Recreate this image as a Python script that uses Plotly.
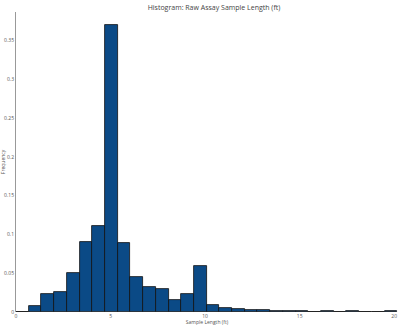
import plotly.graph_objects as go

bin_edges = [0.0, 0.672, 1.344, 2.016, 2.688, 3.36, 4.032, 4.704, 5.376, 6.048,
             6.72, 7.392, 8.064, 8.736, 9.408, 10.08, 10.752, 11.424, 12.096, 12.768,
             13.44, 14.112, 14.784, 15.456, 16.128, 16.8, 17.472, 18.144, 18.816, 19.488, 20.16]
frequency = [0.0, 0.0071, 0.0234, 0.0264, 0.0505, 0.0904, 0.111, 0.370, 0.0891, 0.0457,
             0.0324, 0.0294, 0.0161, 0.0229, 0.0599, 0.0084, 0.0058, 0.0045, 0.0028, 0.0022,
             0.0018, 0.0012, 0.0010, 0.0006, 0.0008, 0.0005, 0.0009, 0.0006, 0.0004, 0.0010]
x_ticks = [0, 5, 10, 15, 20]
y_ticks = [0, 0.05, 0.1, 0.15, 0.2, 0.25, 0.3, 0.35]
y_tick_labels = ["0", "0.05", "0.1", "0.15", "0.2", "0.25", "0.3", "0.35"]

centers = [(bin_edges[i] + bin_edges[i + 1]) / 2 for i in range(len(frequency))]
widths = [bin_edges[i + 1] - bin_edges[i] for i in range(len(frequency))]

font = "Open Sans, Segoe UI, sans-serif"
fig = go.Figure(go.Bar(
    x=centers, y=frequency, width=widths,
    marker=dict(color="#0b4a86", line=dict(color="#111111", width=0.8)),
))
fig.update_layout(
    width=400, height=328,
    margin=dict(l=16, r=2, t=12, b=16),
    paper_bgcolor="white", plot_bgcolor="white",
    showlegend=False,
    bargap=0,
    title=dict(text="Histogram: Raw Assay Sample Length (ft)", x=0.535, xanchor="center",
               y=0.985, yanchor="top", font=dict(family=font, size=7, color="#444")),
    font=dict(family=font, size=5, color="#555"),
)
fig.update_xaxes(range=[0, 20.2], tickvals=x_ticks, showgrid=False, zeroline=False,
                 showline=False, ticks="", ticklen=0, tickfont=dict(size=5, color="#555"),
                 title=dict(text="Sample Length (ft)", font=dict(size=5, color="#555"), standoff=2))
fig.update_xaxes(automargin=False)
fig.update_yaxes(range=[0, 0.3868], tickvals=y_ticks, ticktext=y_tick_labels, showgrid=False,
                 zeroline=False, showline=True, linecolor="#999", linewidth=1,
                 ticks="", tickfont=dict(size=5, color="#555"),
                 title=dict(text="Frequency", font=dict(size=5, color="#555"), standoff=2),
                 automargin=False)
fig.write_html("out.html")
